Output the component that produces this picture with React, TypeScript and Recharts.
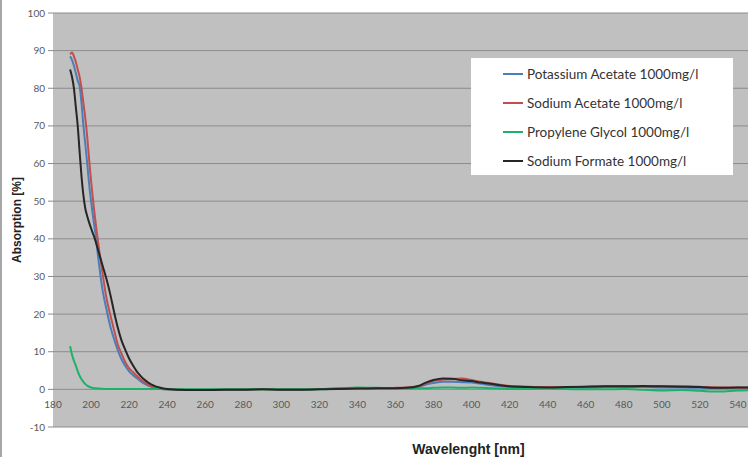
import React from "react";
import {
  CartesianGrid,
  Legend,
  Line,
  LineChart,
  XAxis,
  YAxis,
} from "recharts";

// wavelengths [nm] and absorption [%]
const wavelength = [
  189, 190, 191, 192, 193, 194, 195, 196, 197, 198, 199, 200, 201, 202, 204, 206, 208, 210, 212, 214,
  216, 218, 220, 222, 224, 226, 228, 230, 233, 236, 240, 250, 260, 270, 280, 290, 300, 310, 320, 330,
  340, 350, 360, 366, 372, 376, 380, 385, 390, 395, 400, 405, 410, 415, 420, 430, 440, 450, 460, 470,
  480, 490, 500, 510, 520, 530, 540, 546,
];
const potassiumAcetate = [
  88.5, 87.5, 86, 84, 82, 80.5, 76, 70, 65, 60, 54.5, 50, 46, 42.5, 34, 26.5, 21.5, 17, 13.5, 10.5,
  8, 6.2, 4.8, 3.8, 3, 2.2, 1.5, 1, 0.5, 0.2, 0, -0.1, -0.1, 0, 0, 0.1, 0, 0, 0.1, 0.2,
  0.3, 0.3, 0.3, 0.4, 0.6, 1.3, 1.7, 2, 2, 1.9, 1.8, 1.5, 1.1, 0.8, 0.6, 0.5, 0.5, 0.5, 0.5, 0.6,
  0.6, 0.6, 0.5, 0.5, 0.4, 0.3, 0.4, 0.4,
];
const sodiumAcetate = [
  89, 89.5, 88.5, 87, 85, 83, 80, 76, 72, 67, 61, 55.5, 50.5, 46, 38, 31, 24.5, 20, 16, 12,
  9.5, 7.2, 5.6, 4.6, 3.6, 2.7, 1.9, 1.2, 0.6, 0.2, 0, -0.1, -0.1, 0, 0, 0, 0, 0, 0.1, 0.2,
  0.3, 0.3, 0.4, 0.5, 0.8, 1.6, 2.3, 2.6, 2.7, 2.9, 2.5, 2, 1.6, 1.2, 0.9, 0.7, 0.6, 0.6, 0.7, 0.8,
  0.8, 0.8, 0.8, 0.8, 0.7, 0.5, 0.5, 0.4,
];
const propyleneGlycol = [
  11.5, 9.2, 7.6, 6.3, 4.8, 3.6, 2.7, 2, 1.4, 1, 0.7, 0.5, 0.35, 0.3, 0.2, 0.15, 0.1, 0.1, 0.1, 0.1,
  0.1, 0.1, 0.1, 0.1, 0.1, 0.1, 0.1, 0.1, 0.1, 0.1, 0, 0, 0, 0, 0, 0, 0, 0, 0, 0.2,
  0.5, 0.4, 0.3, 0.2, 0.3, 0.3, 0.4, 0.5, 0.5, 0.4, 0.5, 0.4, 0.3, 0.2, 0.1, 0.1, 0.2, 0.1, 0, 0,
  0.1, -0.1, -0.3, -0.2, -0.4, -0.6, -0.3, -0.2,
];
const sodiumFormate = [
  85, 83, 80, 75, 70, 63, 56.5, 51.5, 48, 46, 44.3, 42.8, 41.4, 40, 36.5, 33, 29.5, 25.5, 20.8, 16.5,
  13, 10.5, 8.2, 6.4, 4.8, 3.6, 2.6, 1.8, 1, 0.5, 0.1, -0.2, -0.2, -0.1, -0.1, 0, -0.1, -0.1, 0, 0.1,
  0.2, 0.3, 0.3, 0.4, 0.9, 1.8, 2.5, 2.9, 2.8, 2.4, 2.2, 1.8, 1.5, 1.1, 0.8, 0.6, 0.5, 0.6, 0.7, 0.8,
  0.8, 0.9, 0.8, 0.7, 0.6, 0.4, 0.5, 0.5,
];

const xTicks = [180, 200, 220, 240, 260, 280, 300, 320, 340, 360, 380, 400, 420, 440, 460, 480, 500, 520, 540];
const yTicks = [-10, 0, 10, 20, 30, 40, 50, 60, 70, 80, 90, 100];

const series = [
  { key: "pa", name: "Potassium Acetate 1000mg/l", color: "#4a7ebb", values: potassiumAcetate },
  { key: "sa", name: "Sodium Acetate 1000mg/l", color: "#c0504d", values: sodiumAcetate },
  { key: "pg", name: "Propylene Glycol 1000mg/l", color: "#1fb06a", values: propyleneGlycol },
  { key: "sf", name: "Sodium Formate 1000mg/l", color: "#262626", values: sodiumFormate },
];

const data = wavelength.map((w, i) => {
  const row: Record<string, number> = { w };
  series.forEach((s) => (row[s.key] = s.values[i]));
  return row;
});

const FONT = "Lato, 'Open Sans', sans-serif";
const TITLE_FONT = "'Liberation Sans', Arial, sans-serif";

// Excel puts the category labels under the zero line, not under -10
function XTick(props: any) {
  const { x, y, payload } = props;
  return (
    <text x={x} y={y - 19} textAnchor="middle" fill="#595959" fontSize={10} fontFamily={FONT}>
      {payload.value}
    </text>
  );
}

// keep the series order (recharts sorts legend items by name otherwise)
function LegendBox() {
  return (
    <div
      style={{
        background: "#fff",
        width: 262,
        height: 117,
        boxSizing: "border-box",
        paddingTop: 1,
        fontFamily: FONT,
        fontSize: 13.5,
        color: "#333",
      }}
    >
      {series.map((s) => (
        <div key={s.key} style={{ display: "flex", alignItems: "center", height: 29 }}>
          <span style={{ marginLeft: 32, width: 20, height: 2, background: s.color, marginRight: 4 }} />
          <span>{s.name}</span>
        </div>
      ))}
    </div>
  );
}

export default function App() {
  return (
    <div
      style={{
        position: "absolute",
        left: 0,
        top: 0,
        width: 748,
        height: 457,
        background: "#fff",
        borderLeft: "2px solid #a6a6a6",
        boxSizing: "border-box",
      }}
    >
      <LineChart width={746} height={457} data={data} margin={{ top: 13, right: 0, bottom: 0, left: -2 }}>
        <CartesianGrid vertical={false} fill="#c0c0c0" stroke="#8c8c8c" strokeWidth={1} />
        <XAxis
          dataKey="w"
          type="number"
          domain={[180, 545.3]}
          allowDataOverflow
          ticks={xTicks}
          interval={0}
          height={30}
          axisLine={false}
          tickLine={false}
          tickSize={0}
          tickMargin={0}
          tick={<XTick />}
          label={{
            value: "Wavelenght [nm]",
            position: "insideBottom",
            dx: 68,
            offset: 3,
            fill: "#222",
            fontSize: 14,
            fontWeight: "bold",
            fontFamily: TITLE_FONT,
          }}
        />
        <YAxis
          type="number"
          domain={[-10, 100]}
          ticks={yTicks}
          interval={0}
          width={53}
          axisLine={false}
          tickLine={{ stroke: "#8c8c8c" }}
          tickSize={5}
          tickMargin={3}
          tick={{ fill: "#595959", fontSize: 10, fontFamily: FONT }}
          label={{
            value: "Absorption [%]",
            angle: -90,
            position: "insideLeft",
            offset: 17,
            fill: "#222",
            fontSize: 12,
            fontWeight: "bold",
            fontFamily: TITLE_FONT,
            style: { textAnchor: "middle" },
          }}
        />
        <Legend
          layout="vertical"
          align="center"
          verticalAlign="middle"
          wrapperStyle={{ left: 469, top: 58, width: 262, height: 117 }}
          content={<LegendBox />}
        />
        {series.map((s) => (
          <Line
            key={s.key}
            dataKey={s.key}
            name={s.name}
            stroke={s.color}
            strokeWidth={2}
            dot={false}
            type="monotone"
            isAnimationActive={false}
          />
        ))}
      </LineChart>
    </div>
  );
}
